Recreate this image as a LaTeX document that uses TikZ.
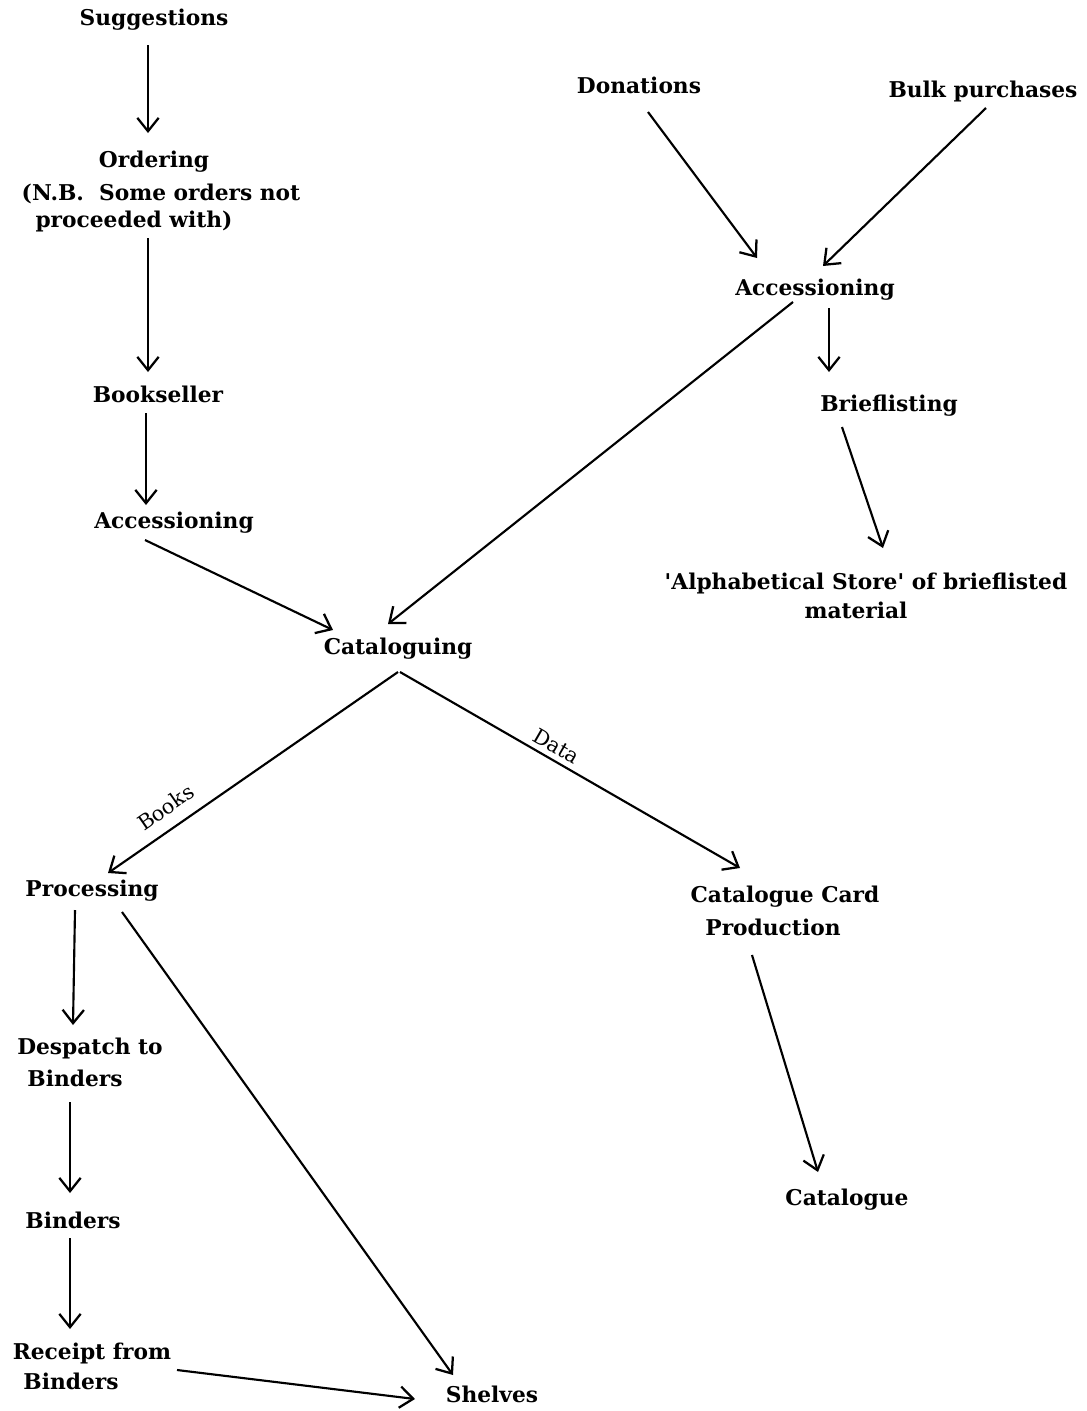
\documentclass[tikz,border=0pt]{standalone}
\usepackage{fontspec}
\setmainfont{DejaVu Serif}
\usetikzlibrary{arrows.meta,calc}
\begin{document}
\begin{tikzpicture}[x=0.75pt,y=-0.75pt,
  lbl/.style={inner sep=0pt,font=\fontsize{16.3}{19}\selectfont\bfseries},
  flow/.style={line width=1.6pt,-{Straight Barb[length=10pt,width=16pt,line width=1.7pt]}},
  tag/.style={inner sep=2pt,font=\fontsize{15.5}{18}\selectfont,sloped}]
\useasboundingbox (0,0) rectangle (1086,1411);
\fill[white] (0,0) rectangle (1086,1411);

% left column: ordering route
\node[lbl] (sugg) at (154,20) {Suggestions};
\node[lbl] (ordering) at (154,162) {Ordering};
\node[lbl] (ordnoteA) at (161,194) {(N.B.\ \ Some orders not};
\node[lbl] (ordnoteB) at (134,221) {proceeded with)};
\node[lbl] (bookseller) at (158,394) {Bookseller};
\node[lbl] (accL) at (174,523) {Accessioning};

% right column: donations and bulk purchases
\node[lbl] (donations) at (639,85) {Donations};
\node[lbl] (bulk) at (983,91) {Bulk purchases};
\node[lbl] (accR) at (815,290) {Accessioning};
\node[lbl] (brief) at (889,406) {Brieflisting};
\node[lbl] (storeA) at (866,583) {\textquotesingle Alphabetical Store\textquotesingle\ of brieflisted};
\node[lbl] (storeB) at (856,610) {material};

% centre and lower part
\node[lbl] (catal) at (398,649) {Cataloguing};
\node[lbl] (proc) at (92,891) {Processing};
\node[lbl] (ccpA) at (785,897) {Catalogue Card};
\node[lbl] (ccpB) at (773,927) {Production};
\node[lbl] (catalogue) at (847,1200) {Catalogue};
\node[lbl] (despA) at (90,1048) {Despatch to};
\node[lbl] (despB) at (75,1078) {Binders};
\node[lbl] (binders) at (73,1220) {Binders};
\node[lbl] (recA) at (92,1353) {Receipt from};
\node[lbl] (recB) at (71,1381) {Binders};
\node[lbl] (shelves) at (492,1394) {Shelves};

% connectors
\draw[flow] ([shift={(-6,25)}]sugg.center) -- ([shift={(-6,-29)}]ordering.center);
\draw[flow] ([shift={(14,17)}]ordnoteB.center) -- ([shift={(-10,-22)}]bookseller.center);
\draw[flow] ([shift={(-12,19)}]bookseller.center) -- ([shift={(-28,-18)}]accL.center);
\draw[flow] ([shift={(-29,17)}]accL.center) -- ([shift={(-65,-19)}]catal.center);

\draw[flow] ([shift={(9,27)}]donations.center) -- ([shift={(-58,-32)}]accR.center);
\draw[flow] ([shift={(3,17)}]bulk.center) -- ([shift={(8,-24)}]accR.center);
\draw[flow] ([shift={(-22,12)}]accR.center) -- ([shift={(-10,-25)}]catal.center);
\draw[flow] ([shift={(14,18)}]accR.center) -- ([shift={(-60,-34)}]brief.center);
\draw[flow] ([shift={(-47,21)}]brief.center) -- ([shift={(17,-35)}]storeA.center);

\draw[flow] ([shift={(0,23)}]catal.center) -- node[tag,above=7pt,pos=0.76]{Books} ([shift={(16,-18)}]proc.center);
\draw[flow] ([shift={(2,23)}]catal.center) -- node[tag,above=2pt,pos=0.44]{Data} ([shift={(-45,-29)}]ccpA.center);
\draw[flow] ([shift={(-21,28)}]ccpB.center) -- ([shift={(-29,-28)}]catalogue.center);

\draw[flow] ([shift={(-17,19)}]proc.center) -- ([shift={(-17,-23)}]despA.center);
\draw[flow] ([shift={(30,21)}]proc.center) -- ([shift={(-39,-19)}]shelves.center);
\draw[flow] ([shift={(-5,24)}]despB.center) -- ([shift={(-3,-27)}]binders.center);
\draw[flow] ([shift={(-3,18)}]binders.center) -- ([shift={(-22,-24)}]recA.center);
\draw[flow] ([shift={(85,17)}]recA.center) -- ([shift={(-77,5)}]shelves.center);
\end{tikzpicture}
\end{document}
